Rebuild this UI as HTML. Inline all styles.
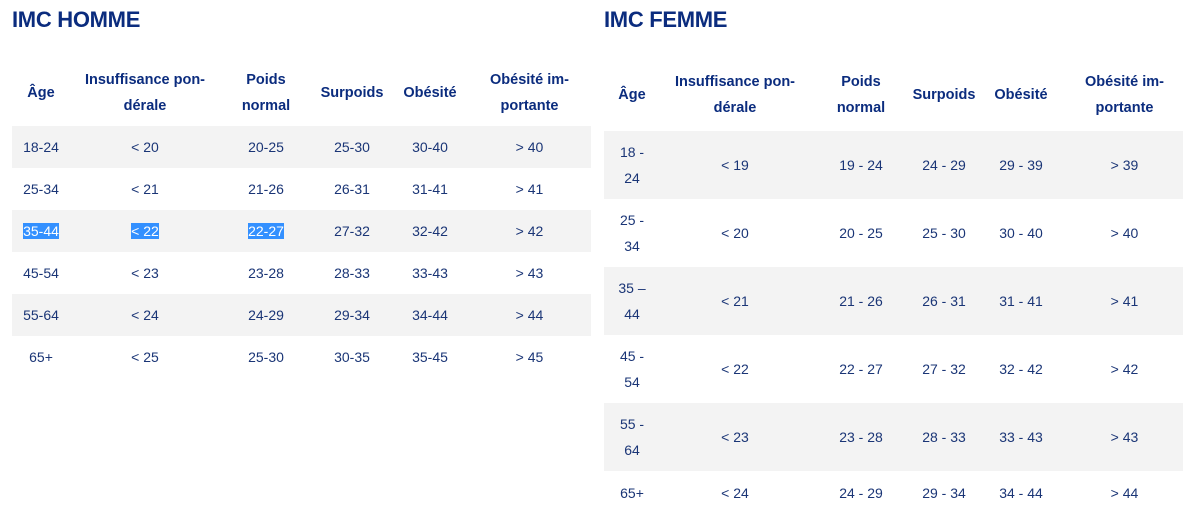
<!DOCTYPE html>
<html><head><meta charset="utf-8">
<style>
body{margin:0;width:1190px;height:504px;overflow:hidden;background:#fff;font-family:"Liberation Sans",sans-serif;color:#1a3576;position:relative}
h2{position:absolute;margin:0;font-size:22px;font-weight:bold;color:#0b2c7e;top:7px;letter-spacing:-0.3px}
table{position:absolute;border-collapse:collapse;table-layout:fixed;font-size:14px}
th{font-weight:bold;font-size:14.5px;line-height:26px;color:#0b2c7e;padding:0;text-align:center;vertical-align:middle}
td{padding:0;text-align:center;vertical-align:middle;line-height:26px}
tr.g td{background:#f3f3f3}
.sel{background:#3390ff;color:#fff}
</style></head><body>
<h2 style="left:12px">IMC HOMME</h2>
<h2 style="left:604px">IMC FEMME</h2>

<table style="left:12px;top:60px;width:579px">
<colgroup><col style="width:58px"><col style="width:150px"><col style="width:92px"><col style="width:80px"><col style="width:76px"><col style="width:123px"></colgroup>
<tr style="height:66px"><th>Âge</th><th>Insuffisance pon-<br>dérale</th><th>Poids<br>normal</th><th>Surpoids</th><th>Obésité</th><th>Obésité im-<br>portante</th></tr>
<tr class="g" style="height:42px"><td>18-24</td><td>&lt; 20</td><td>20-25</td><td>25-30</td><td>30-40</td><td>&gt; 40</td></tr>
<tr style="height:42px"><td>25-34</td><td>&lt; 21</td><td>21-26</td><td>26-31</td><td>31-41</td><td>&gt; 41</td></tr>
<tr class="g" style="height:42px"><td><span class="sel">35-44</span></td><td><span class="sel">&lt; 22</span></td><td><span class="sel">22-27</span></td><td>27-32</td><td>32-42</td><td>&gt; 42</td></tr>
<tr style="height:42px"><td>45-54</td><td>&lt; 23</td><td>23-28</td><td>28-33</td><td>33-43</td><td>&gt; 43</td></tr>
<tr class="g" style="height:42px"><td>55-64</td><td>&lt; 24</td><td>24-29</td><td>29-34</td><td>34-44</td><td>&gt; 44</td></tr>
<tr style="height:42px"><td>65+</td><td>&lt; 25</td><td>25-30</td><td>30-35</td><td>35-45</td><td>&gt; 45</td></tr>
</table>

<table style="left:604px;top:58px;width:579px">
<colgroup><col style="width:56px"><col style="width:150px"><col style="width:102px"><col style="width:64px"><col style="width:90px"><col style="width:117px"></colgroup>
<tr style="height:73px"><th>Âge</th><th>Insuffisance pon-<br>dérale</th><th>Poids<br>normal</th><th>Surpoids</th><th>Obésité</th><th>Obésité im-<br>portante</th></tr>
<tr class="g" style="height:68px"><td>18 -<br>24</td><td>&lt; 19</td><td>19 - 24</td><td>24 - 29</td><td>29 - 39</td><td>&gt; 39</td></tr>
<tr style="height:68px"><td>25 -<br>34</td><td>&lt; 20</td><td>20 - 25</td><td>25 - 30</td><td>30 - 40</td><td>&gt; 40</td></tr>
<tr class="g" style="height:68px"><td>35 –<br>44</td><td>&lt; 21</td><td>21 - 26</td><td>26 - 31</td><td>31 - 41</td><td>&gt; 41</td></tr>
<tr style="height:68px"><td>45 -<br>54</td><td>&lt; 22</td><td>22 - 27</td><td>27 - 32</td><td>32 - 42</td><td>&gt; 42</td></tr>
<tr class="g" style="height:68px"><td>55 -<br>64</td><td>&lt; 23</td><td>23 - 28</td><td>28 - 33</td><td>33 - 43</td><td>&gt; 43</td></tr>
<tr style="height:44px"><td>65+</td><td>&lt; 24</td><td>24 - 29</td><td>29 - 34</td><td>34 - 44</td><td>&gt; 44</td></tr>
</table>
</body></html>
